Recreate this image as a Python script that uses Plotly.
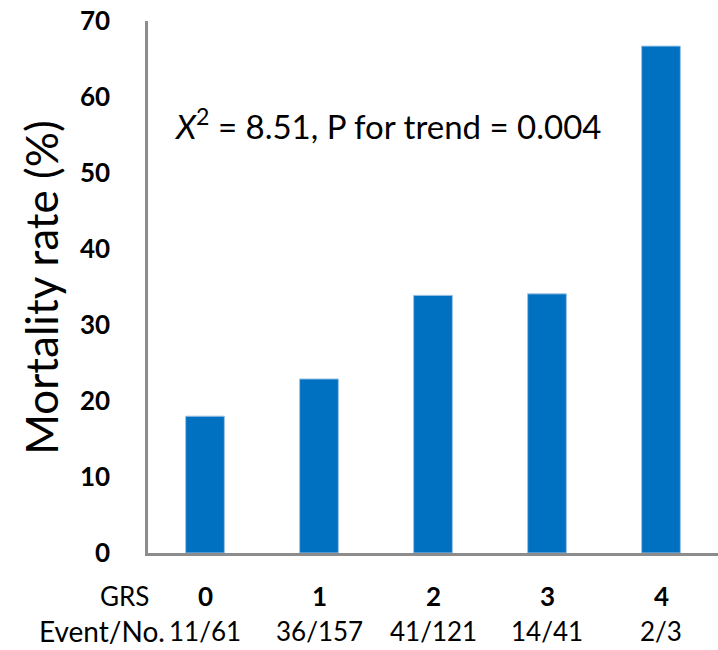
import plotly.graph_objects as go

grs = ["0", "1", "2", "3", "4"]
events = ["11/61", "36/157", "41/121", "14/41", "2/3"]
mortality = [18.0, 22.9, 33.9, 34.1, 66.7]
y_ticks = [0, 10, 20, 30, 40, 50, 60, 70]

FONT = "Lato"
AXIS_COLOR = "#8c8c8c"

fig = go.Figure()
fig.add_trace(go.Bar(
    x=grs, y=mortality,
    marker=dict(color="#0070C0", line=dict(color="#9dc3e6", width=1)),
    width=0.34,
    hoverinfo="skip",
))

annotations = [
    dict(text="<i>X</i><sup>2</sup> = 8.51, P for trend = 0.004",
         xref="paper", yref="paper", x=0.042, y=0.806,
         xanchor="left", yanchor="middle", showarrow=False,
         font=dict(family=FONT, size=33, color="#000")),
    dict(text="Mortality rate (%)", textangle=-90,
         xref="paper", yref="paper", x=-0.188, y=0.5,
         xanchor="center", yanchor="middle", showarrow=False,
         font=dict(family=FONT, size=44, color="#000")),
    dict(text="GRS", xref="paper", yref="paper", x=0, y=-0.081,
         xanchor="right", yanchor="middle", showarrow=False, xshift=3,
         font=dict(family=FONT, size=26, color="#000")),
    dict(text="Event/No.", xref="paper", yref="paper", x=0, y=-0.146,
         xanchor="right", yanchor="middle", showarrow=False, xshift=19,
         font=dict(family=FONT, size=28, color="#000")),
]
for g, e in zip(grs, events):
    annotations.append(dict(text="<b>" + g + "</b>", xref="x", yref="paper", x=g, y=-0.081,
                            xanchor="center", yanchor="middle", showarrow=False,
                            font=dict(family=FONT, size=26, color="#000")))
    annotations.append(dict(text=e, xref="x", yref="paper", x=g, y=-0.146,
                            xanchor="center", yanchor="middle", showarrow=False,
                            font=dict(family=FONT, size=26, color="#000")))

fig.update_layout(
    width=718, height=650,
    margin=dict(l=148, r=0, t=21, b=97),
    paper_bgcolor="white", plot_bgcolor="white",
    showlegend=False,
    annotations=annotations,
    xaxis=dict(showticklabels=False, showgrid=False, zeroline=False,
               showline=True, linecolor=AXIS_COLOR, linewidth=2.5,
               range=[-0.5, 4.5]),
    yaxis=dict(range=[0, 70], tickvals=y_ticks,
               ticktext=["<b>%d</b>" % v for v in y_ticks],
               showgrid=False, zeroline=False,
               showline=True, linecolor=AXIS_COLOR, linewidth=2.5,
               ticks="", ticklabelstandoff=30,
               tickfont=dict(family=FONT, size=26, color="#000")),
)

fig.write_html("out.html", config={"displayModeBar": False},
               post_script="document.body.style.margin='0px';")
